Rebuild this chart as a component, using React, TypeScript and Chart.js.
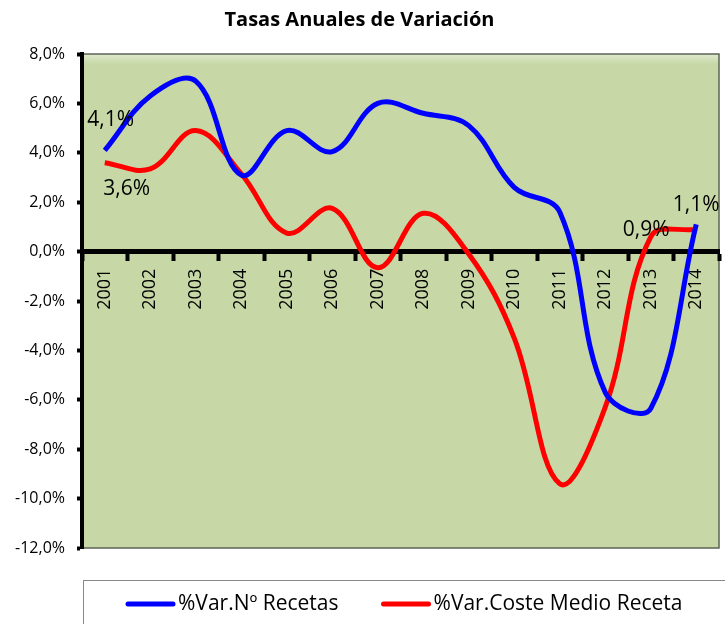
import React, { useEffect, useRef } from 'react';
import { Chart, registerables } from 'chart.js';

Chart.register(...registerables);

// ---- data ----
const years = ['2001', '2002', '2003', '2004', '2005', '2006', '2007', '2008', '2009', '2010', '2011', '2012', '2013', '2014'];
const varRecetas = [4.1, 6.3, 6.9, 3.1, 4.9, 4.05, 6.0, 5.6, 5.1, 2.6, 1.6, -5.7, -6.35, 1.1];
const varCoste = [3.6, 3.35, 4.9, 3.15, 0.75, 1.75, -0.65, 1.55, -0.1, -3.5, -9.4, -6.3, 0.6, 0.9];
const seriesNames = ['%Var.Nº Recetas', '%Var.Coste Medio Receta'];
const seriesColors = ['#0000ff', '#ff0000'];
const yMin = -12;
const yMax = 8;
const yStep = 2;
const titleText = 'Tasas Anuales de Variación';

const FONT = "'Open Sans', 'DejaVu Sans', sans-serif";
const fmt = (v: number) => v.toFixed(1).replace('.', ',') + '%';

// which points carry a value label (dataset, index) and where it sits relative to the point
const labelSpecs = [
  { ds: 0, idx: 0, dx: 6, dy: -30 },
  { ds: 1, idx: 0, dx: 22, dy: 26 },
  { ds: 1, idx: 13, dx: -50, dy: 1 },
  { ds: 0, idx: 13, dx: 0, dy: -19 },
];

const plotBg = {
  id: 'plotBg',
  beforeDraw(chart: any) {
    const { ctx, chartArea: a } = chart;
    ctx.save();
    ctx.fillStyle = '#c7d8a6';
    ctx.fillRect(a.left, a.top, a.right - a.left, a.bottom - a.top);
    const g = ctx.createLinearGradient(0, a.top, 0, a.top + 10);
    g.addColorStop(0, 'rgba(255,255,255,0.45)');
    g.addColorStop(1, 'rgba(255,255,255,0)');
    ctx.fillStyle = g;
    ctx.fillRect(a.left, a.top, a.right - a.left, 10);
    ctx.strokeStyle = '#5c6455';
    ctx.lineWidth = 1.5;
    ctx.strokeRect(a.left, a.top, a.right - a.left, a.bottom - a.top);
    ctx.restore();
  },
};

const valueLabels = {
  id: 'valueLabels',
  afterDatasetsDraw(chart: any) {
    const { ctx } = chart;
    ctx.save();
    ctx.font = `21px ${FONT}`;
    ctx.fillStyle = '#000';
    ctx.textAlign = 'center';
    ctx.textBaseline = 'middle';
    labelSpecs.forEach((s) => {
      const meta = chart.getDatasetMeta(s.ds);
      const pt = meta.data[s.idx];
      const v = chart.data.datasets[s.ds].data[s.idx] as number;
      ctx.fillText(fmt(v), pt.x + s.dx, pt.y + s.dy);
    });
    ctx.restore();
  },
};

const boxedLegend = {
  id: 'boxedLegend',
  afterDraw(chart: any) {
    const { ctx, chartArea: a, width } = chart;
    ctx.save();
    ctx.strokeStyle = '#888888';
    ctx.lineWidth = 1;
    ctx.strokeRect(a.left + 1.5, 580.5, width + 20, 80);
    ctx.font = `21px ${FONT}`;
    ctx.textBaseline = 'middle';
    ctx.textAlign = 'left';
    const cy = 604;
    let x = 126;
    chart.data.datasets.forEach((ds: any) => {
      ctx.strokeStyle = ds.borderColor;
      ctx.lineWidth = 5;
      ctx.lineCap = 'round';
      ctx.beginPath();
      ctx.moveTo(x + 2, cy);
      ctx.lineTo(x + 47, cy);
      ctx.stroke();
      ctx.fillStyle = '#000';
      ctx.fillText(ds.label, x + 52, cy);
      x = x + 52 + ctx.measureText(ds.label).width + 43;
    });
    ctx.restore();
  },
};

export default function App() {
  const ref = useRef<HTMLCanvasElement | null>(null);

  useEffect(() => {
    if (!ref.current) return;
    const chart = new Chart(ref.current, {
      type: 'line',
      data: {
        labels: years,
        datasets: [
          {
            label: seriesNames[0],
            data: varRecetas,
            borderColor: seriesColors[0],
            backgroundColor: seriesColors[0],
            borderWidth: 5,
            pointRadius: 0,
            tension: 0.38,
            fill: false,
          },
          {
            label: seriesNames[1],
            data: varCoste,
            borderColor: seriesColors[1],
            backgroundColor: seriesColors[1],
            borderWidth: 5,
            pointRadius: 0,
            tension: 0.38,
            fill: false,
          },
        ],
      },
      options: {
        responsive: false,
        animation: false,
        events: [],
        layout: { padding: { left: 0, right: 6, top: 0, bottom: 76 } },
        plugins: {
          legend: { display: false },
          tooltip: { enabled: false },
          title: {
            display: true,
            text: titleText,
            color: '#000',
            font: { family: FONT, size: 20, weight: 'bold' },
            padding: { top: 8, bottom: 22 },
          },
        },
        scales: {
          x: {
            type: 'category',
            position: { y: 0 } as any,
            offset: true,
            grid: {
              offset: true,
              drawOnChartArea: false,
              drawTicks: true,
              tickLength: 7,
              tickWidth: 4,
              tickColor: '#000',
            },
            border: { display: true, color: '#000', width: 5 },
            ticks: {
              autoSkip: false,
              minRotation: 90,
              maxRotation: 90,
              color: '#000',
              padding: 10,
              font: { family: FONT, size: 18 },
            },
            afterFit: (s: any) => {
              s.paddingLeft = 0;
              s.paddingRight = 0;
            },
          },
          y: {
            min: yMin,
            max: yMax,
            grid: {
              drawOnChartArea: false,
              drawTicks: true,
              tickLength: 5,
              tickWidth: 4,
              tickColor: '#000',
            },
            border: { display: true, color: '#000', width: 4 },
            ticks: {
              stepSize: yStep,
              color: '#000',
              padding: 12,
              font: { family: FONT, size: 16 },
              callback: (v: any) => fmt(Number(v)),
            },
            afterFit: (s: any) => {
              s.width = 82;
            },
          },
        },
      },
      plugins: [plotBg, valueLabels, boxedLegend],
    });
    return () => chart.destroy();
  }, []);

  return (
    <div style={{ position: 'absolute', left: 0, top: 0, width: 725, height: 624, background: '#fff' }}>
      <canvas ref={ref} width={725} height={624} style={{ display: 'block' }} />
    </div>
  );
}
